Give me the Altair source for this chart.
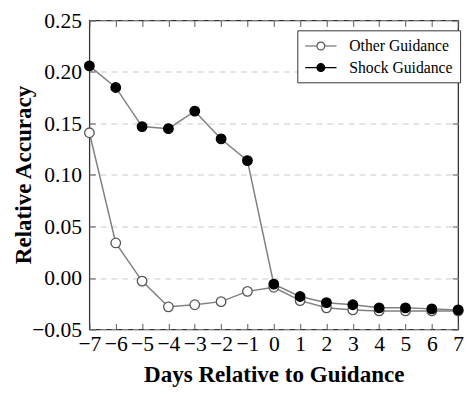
import altair as alt
import pandas as pd

days = list(range(-7, 8))
other = [0.141, 0.034, -0.003, -0.028, -0.026, -0.023, -0.013, -0.009,
         -0.022, -0.029, -0.031, -0.032, -0.032, -0.032, -0.032]
shock = [0.206, 0.185, 0.147, 0.145, 0.162, 0.135, 0.114, -0.006,
         -0.018, -0.024, -0.026, -0.029, -0.029, -0.030, -0.031]
series = ["Other Guidance", "Shock Guidance"]
yticks = [-0.05, 0, 0.05, 0.1, 0.15, 0.2, 0.25]

df = pd.DataFrame(
    {"day": days * 2,
     "value": other + shock,
     "series": [series[0]] * len(days) + [series[1]] * len(days)}
)

FONT = "Liberation Serif"
xscale = alt.Scale(domain=[-7, 7], nice=False, zero=False)
yscale = alt.Scale(domain=[-0.05, 0.25], nice=False, zero=False)

base = alt.Chart(df)

lines = base.mark_line(color="#808080", strokeWidth=1.5).encode(
    x=alt.X("day:Q", scale=xscale,
            axis=alt.Axis(title="Days Relative to Guidance", values=days,
                          format="d", orient="bottom", offset=-6, tickSize=6,
                          labelPadding=4, domain=False, grid=False,
                          titlePadding=9)),
    y=alt.Y("value:Q", scale=yscale,
            axis=alt.Axis(title="Relative Accuracy", values=yticks,
                          format=".2f", orient="left", offset=-6, tickSize=6,
                          labelPadding=8, domain=False, grid=True,
                          gridDash=[6, 5], gridColor="#c8c8c8",
                          titleX=-61, titleY=157, titleAngle=270,
                          titleAlign="center", titleBaseline="bottom")),
    detail="series:N",
)

legend_path = ("M-2,0L-0.5,0M0.5,0L2,0M-0.5,0A0.5,0.5,0,1,0,0.5,0"
               "A0.5,0.5,0,1,0,-0.5,0Z")

leg = dict(title=None, orient="none", legendX=212, legendY=10,
           symbolType=legend_path, symbolSize=256, symbolStrokeWidth=1.2,
           symbolOffset=8, labelOffset=20,
           labelFont=FONT, labelFontSize=16, labelColor="black",
           strokeColor="#333", fillColor="white", padding=7, rowPadding=5)

points = base.mark_point(shape="circle", size=95, strokeWidth=1.3, opacity=1).encode(
    x=alt.X("day:Q", scale=xscale,
            axis=alt.Axis(title=None, values=days, labels=False, orient="top",
                          offset=-6, tickSize=6, domain=False, grid=False)),
    y=alt.Y("value:Q", scale=yscale,
            axis=alt.Axis(title=None, values=yticks, labels=False,
                          orient="right", offset=-6, tickSize=6,
                          domain=False, grid=False)),
    fill=alt.Fill("series:N", scale=alt.Scale(domain=series, range=["white", "black"]),
                  legend=alt.Legend(**leg)),
    stroke=alt.Stroke("series:N", scale=alt.Scale(domain=series, range=["#555555", "black"]),
                      legend=alt.Legend(**leg)),
)

chart = alt.layer(lines, points).resolve_axis(
    x="independent", y="independent"
).properties(
    width=376, height=315,
    autosize=alt.AutoSizeParams(type="none"),
    padding={"left": 83, "top": 9, "right": 8, "bottom": 60},
).configure_view(
    stroke="#333", strokeWidth=1.3
).configure_axis(
    labelFont=FONT, labelFontSize=22, labelColor="black",
    titleFont=FONT, titleFontSize=23.5, titleFontWeight="bold", titleColor="black",
    tickColor="#555", tickWidth=1,
).configure_axisX(
    labelFlush=False, labelOverlap=False
).configure_axisY(
    labelOverlap=False
)

chart.save("out.html", embed_options={"renderer": "svg", "actions": False})
